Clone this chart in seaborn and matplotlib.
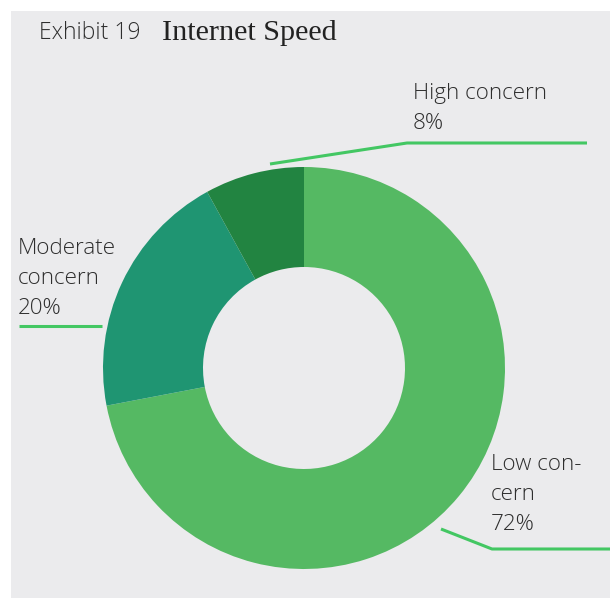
import matplotlib
matplotlib.use("Agg")
import matplotlib.pyplot as plt
import seaborn as sns
from matplotlib.patches import Rectangle

sns.set_theme(style="white")

categories = ["Low concern", "Moderate concern", "High concern"]
values = [72, 20, 8]
label_texts = ["Low con-\ncern\n72%", "Moderate\nconcern\n20%", "High concern\n8%"]
colors = ["#55b963", "#1f9572", "#228441"]

W, H = 610, 598
fig = plt.figure(figsize=(W / 100, H / 100), dpi=100)
fig.patch.set_facecolor("white")
ax = fig.add_axes([0, 0, 1, 1])
ax.set_xlim(0, W)
ax.set_ylim(0, H)
ax.axis("off")

def py(y):
    return H - y

ax.add_patch(Rectangle((11, 0), W - 11, H - 11, facecolor="#ebebed", edgecolor="none", zorder=0))

ax.pie(values, colors=colors, startangle=90, counterclock=False,
       center=(304, py(368)), radius=201, frame=True,
       wedgeprops=dict(width=100, edgecolor="none"))
ax.set_xlim(0, W)
ax.set_ylim(0, H)
ax.axis("off")

line_c = "#43c763"
ax.plot([270, 407, 587], [py(164), py(143), py(143)], color=line_c, lw=2.2, solid_capstyle="butt")
ax.plot([19, 102], [py(326), py(326)], color=line_c, lw=2.2, solid_capstyle="butt")
ax.plot([441, 492, 610], [py(529), py(549), py(549)], color=line_c, lw=2.2, solid_capstyle="butt")

tc = "#2e2e2e"
font = "Open Sans"
fs = 16.2
ls = 1.55
ax.text(413, py(83), label_texts[2], ha="left", va="top", fontsize=fs, color=tc,
        family=font, fontweight="light", linespacing=ls)
ax.text(18, py(238), label_texts[1], ha="left", va="top", fontsize=fs, color=tc,
        family=font, fontweight="light", linespacing=ls)
ax.text(491, py(454), label_texts[0], ha="left", va="top", fontsize=fs, color=tc,
        family=font, fontweight="light", linespacing=ls)

ax.text(39, py(33), "Exhibit 19", ha="left", va="center", fontsize=16.5, color=tc,
        family=font, fontweight="light")
ax.text(162, py(33), "Internet Speed", ha="left", va="center", fontsize=21.7, color="#222222",
        family="Liberation Serif")

fig.savefig("out.png", dpi=100, facecolor=fig.get_facecolor())
